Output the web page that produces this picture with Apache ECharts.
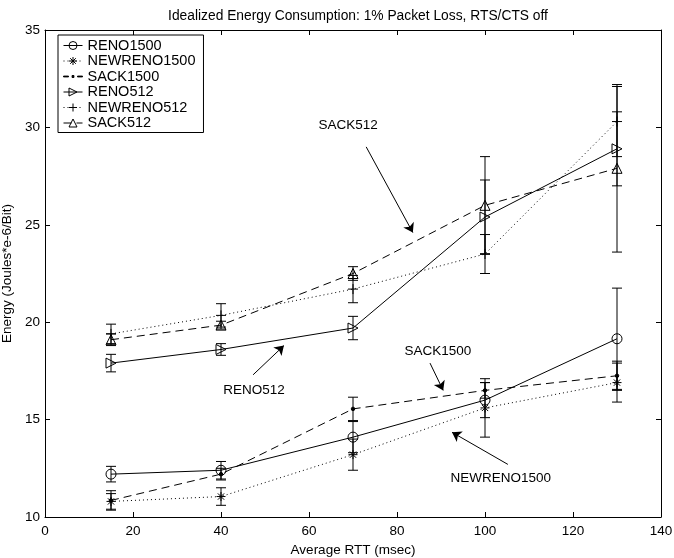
<!DOCTYPE html>
<html>
<head>
<meta charset="utf-8">
<script src="https://cdn.jsdelivr.net/npm/echarts@6/dist/echarts.min.js"></script>
<style>
  html, body { margin: 0; padding: 0; background: #fff; }
  #chart { width: 674px; height: 558px; }
</style>
</head>
<body>
<div id="chart"></div>
<script>
// x positions (average RTT, msec)
const rtt = [15, 40, 70, 100, 130];

// energy values and error half-widths (Joules*e-6/Bit)
const reno1500 = [12.2, 12.4, 14.1, 16.0, 19.15];
const reno1500Err = [0.4, 0.45, 0.8, 0.9, 2.6];
const newreno1500 = [10.8, 11.05, 13.2, 15.6, 16.9];
const newreno1500Err = [0.4, 0.45, 0.8, 1.5, 1.0];
const sack1500 = [10.85, 12.2, 15.55, 16.5, 17.25];
const sack1500Err = [0.5, 0.3, 0.6, 0.4, 0.75];
const reno512 = [17.9, 18.6, 19.7, 25.4, 28.9];
const reno512Err = [0.45, 0.3, 0.6, 1.9, 1.9];
const newreno512 = [19.4, 20.35, 21.7, 23.5, 30.3];
const newreno512Err = [0.5, 0.6, 0.7, 1.0, 1.8];
const sack512 = [19.1, 19.85, 22.5, 26.0, 27.9];
const sack512Err = [0.3, 0.2, 0.35, 2.5, 4.3];

// annotations: label, text position, arrow start, arrow end (data coords)
const noteLabels = ['SACK512', 'RENO512', 'SACK1500', 'NEWRENO1500'];
const notePos = [[68.9, 30.1], [47.5, 16.5], [89.3, 18.5], [103.6, 12.0]];
const noteFrom = [[73, 29.0], [47.3, 17.3], [87.5, 17.9], [105.2, 12.7]];
const noteTo = [[83.6, 24.6], [54.3, 18.8], [90.5, 16.5], [92.5, 14.35]];

const FONT = 'Liberation Sans';
const FS = 13.5;

const STAR = 'path://M0,-5L0,5M-5,0L5,0M-3.5,-3.5L3.5,3.5M-3.5,3.5L3.5,-3.5';
const PLUS = 'path://M0,-5L0,5M-5,0L5,0';
const TRI_RIGHT = 'path://M0,0L9,5L0,10Z';
// legend icon for SACK1500: dash, dot, dash (19 x 10 box)
const DASH_DOT = 'path://M0,0L0,0ZM19,10L19,10ZM0,4.6L5,4.6L5,5.4L0,5.4ZM8.6,4L10.4,4L10.4,6L8.6,6ZM14,4.6L19,4.6L19,5.4L14,5.4Z';

const pairs = (ys) => rtt.map((x, i) => [x, ys[i]]);
const bars = (ys, err) => rtt.map((x, i) => [x, ys[i] - err[i], ys[i] + err[i]]);

const lineSeries = (name, ys, lineType, symbol, size, filled) => ({
  name: name,
  type: 'line',
  data: pairs(ys),
  symbol: symbol,
  symbolSize: size,
  showAllSymbol: true,
  lineStyle: {color: '#000', width: 1, type: lineType},
  itemStyle: {
    color: filled ? '#000' : 'rgba(0,0,0,0)',
    borderColor: '#000',
    borderWidth: 1
  },
  emphasis: {disabled: true},
  z: 3
});

const errSeries = (ys, err) => ({
  type: 'custom',
  data: bars(ys, err),
  silent: true,
  z: 2,
  renderItem: (params, api) => {
    const lo = api.coord([api.value(0), api.value(1)]);
    const hi = api.coord([api.value(0), api.value(2)]);
    const w = 5;
    const style = {stroke: '#000', lineWidth: 1};
    return {
      type: 'group',
      children: [
        {type: 'line', shape: {x1: lo[0], y1: lo[1], x2: hi[0], y2: hi[1]}, style: style},
        {type: 'line', shape: {x1: lo[0] - w, y1: lo[1], x2: lo[0] + w, y2: lo[1]}, style: style},
        {type: 'line', shape: {x1: hi[0] - w, y1: hi[1], x2: hi[0] + w, y2: hi[1]}, style: style}
      ]
    };
  }
});

const DOTTED = [1, 3];
const DASHED = [8, 5];

const chart = echarts.init(document.getElementById('chart'), null, {renderer: 'canvas'});

const axisCommon = {
  axisLine: {show: true, onZero: false, lineStyle: {color: '#000', width: 1}},
  axisTick: {show: true, inside: true, length: 5, lineStyle: {color: '#000'}},
  splitLine: {show: false}
};

const option = {
  backgroundColor: '#fff',
  animation: false,
  textStyle: {fontFamily: FONT, color: '#000'},
  title: {
    text: 'Idealized Energy Consumption: 1% Packet Loss, RTS/CTS off',
    left: 353,
    textAlign: 'center',
    top: 4,
    textStyle: {fontFamily: FONT, fontSize: 13.8, fontWeight: 'normal', color: '#000'}
  },
  grid: {left: 45, right: 13, top: 30, bottom: 41, outerBoundsMode: 'none'},
  legend: {
    orient: 'vertical',
    left: 58,
    top: 35,
    data: [
      'RENO1500', 'NEWRENO1500',
      {name: 'SACK1500', icon: DASH_DOT},
      'RENO512', 'NEWRENO512', 'SACK512'
    ],
    itemWidth: 19,
    itemHeight: 10,
    itemGap: 0.5,
    padding: [3, 8, 2, 5],
    backgroundColor: '#fff',
    borderColor: '#000',
    borderWidth: 1,
    lineStyle: {width: 1},
    itemStyle: {borderWidth: 1},
    textStyle: {fontFamily: FONT, fontSize: 14.5, color: '#000'}
  },
  xAxis: [
    Object.assign({
      type: 'value', min: 0, max: 140, interval: 20,
      name: 'Average RTT (msec)', nameLocation: 'middle', nameGap: 23,
      nameTextStyle: {fontFamily: FONT, fontSize: FS, color: '#000'},
      axisLabel: {fontFamily: FONT, fontSize: FS, color: '#000', margin: 7}
    }, axisCommon),
    Object.assign({
      type: 'value', min: 0, max: 140, interval: 20, position: 'top',
      axisLabel: {show: false}
    }, axisCommon)
  ],
  yAxis: [
    Object.assign({
      type: 'value', min: 10, max: 35, interval: 5,
      name: 'Energy (Joules*e-6/Bit)', nameLocation: 'middle', nameGap: 27,
      nameTextStyle: {fontFamily: FONT, fontSize: FS, color: '#000'},
      axisLabel: {fontFamily: FONT, fontSize: FS, color: '#000', margin: 5}
    }, axisCommon),
    Object.assign({
      type: 'value', min: 10, max: 35, interval: 5, position: 'right',
      axisLabel: {show: false}
    }, axisCommon)
  ],
  series: [
    errSeries(reno1500, reno1500Err),
    errSeries(newreno1500, newreno1500Err),
    errSeries(sack1500, sack1500Err),
    errSeries(reno512, reno512Err),
    errSeries(newreno512, newreno512Err),
    errSeries(sack512, sack512Err),
    lineSeries('RENO1500', reno1500, 'solid', 'circle', 10, false),
    lineSeries('NEWRENO1500', newreno1500, DOTTED, STAR, 9, false),
    lineSeries('SACK1500', sack1500, DASHED, 'circle', 3.5, true),
    lineSeries('RENO512', reno512, 'solid', TRI_RIGHT, 10, false),
    lineSeries('NEWRENO512', newreno512, DOTTED, PLUS, 10, false),
    lineSeries('SACK512', sack512, DASHED, 'triangle', 10, false),
    {
      // text + arrows
      type: 'line',
      data: [],
      silent: true,
      markLine: {
        silent: true,
        animation: false,
        symbol: ['none', 'arrow'],
        symbolSize: 9,
        label: {show: false},
        itemStyle: {color: '#000'},
        lineStyle: {color: '#000', width: 1, type: 'solid'},
        data: noteFrom.map((p, i) => [{coord: p}, {coord: noteTo[i]}])
      },
      markPoint: {
        silent: true,
        animation: false,
        symbol: 'circle',
        symbolSize: 0,
        label: {
          show: true,
          position: 'inside',
          fontFamily: FONT,
          fontSize: FS,
          color: '#000',
          formatter: (p) => p.name
        },
        data: notePos.map((p, i) => ({name: noteLabels[i], coord: p}))
      }
    }
  ]
};

chart.setOption(option);
</script>
</body>
</html>
